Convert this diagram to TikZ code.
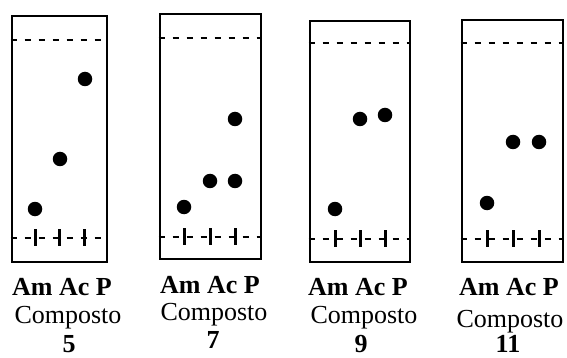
\documentclass[tikz,border=0pt]{standalone}
\usepackage{fontspec}
\setmainfont{Liberation Serif}
\begin{document}
\begin{tikzpicture}[x=1pt,y=-1pt,
  plate/.style={draw, line width=2.6pt, inner sep=0pt},
  front/.style={line width=2.4pt, dash pattern=on 6pt off 8pt},
  mark line/.style={line width=3pt},
  spot/.style={circle, fill, inner sep=0pt, minimum size=14.5pt},
  lab/.style={anchor=base, inner sep=0pt, font=\fontsize{26}{30}\selectfont},
  blab/.style={lab, font=\fontsize{26}{30}\selectfont\bfseries}]
\useasboundingbox (0,0) rectangle (567,358);

% ---- plate 1 (composto 5)
\node[plate, minimum width=95pt, minimum height=246pt] (p1) at (59.5,139) {};
\draw[front] (p1.west |- 0,40) -- (p1.east |- 0,40);
\draw[front] (p1.west |- 0,238) -- (p1.east |- 0,238);
\foreach \x in {35,59,84} \draw[mark line] (\x,229) -- (\x,246);
\node[spot] (s1a) at (85,79) {};
\node[spot] (s1b) at (60,159) {};
\node[spot] (s1c) at (35,209) {};
\node[blab] (t1) at (62,295) {Am Ac P};
\node[lab] (c1) at (68,323) {Composto};
\node[blab] (n1) at (69,352) {5};

% ---- plate 2 (composto 7)
\node[plate, minimum width=101pt, minimum height=245pt] (p2) at (210.5,136.5) {};
\draw[front] (p2.west |- 0,38) -- (p2.east |- 0,38);
\draw[front] (p2.west |- 0,237) -- (p2.east |- 0,237);
\foreach \x in {184,210,235} \draw[mark line] (\x,228) -- (\x,245);
\node[spot] (s2a) at (235,119) {};
\node[spot] (s2b) at (210,181) {};
\node[spot] (s2c) at (235,181) {};
\node[spot] (s2d) at (184,207) {};
\node[blab] (t2) at (210,293) {Am Ac P};
\node[lab] (c2) at (214,320) {Composto};
\node[blab] (n2) at (213,348) {7};

% ---- plate 3 (composto 9)
\node[plate, minimum width=100pt, minimum height=241pt] (p3) at (360,141.5) {};
\draw[front] (p3.west |- 0,43) -- (p3.east |- 0,43);
\draw[front] (p3.west |- 0,239) -- (p3.east |- 0,239);
\foreach \x in {335,360,385} \draw[mark line] (\x,230) -- (\x,247);
\node[spot] (s3a) at (385,115) {};
\node[spot] (s3b) at (360,119) {};
\node[spot] (s3c) at (335,209) {};
\node[blab] (t3) at (358,295) {Am Ac P};
\node[lab] (c3) at (364,323) {Composto};
\node[blab] (n3) at (361,352) {9};

% ---- plate 4 (composto 11)
\node[plate, minimum width=101pt, minimum height=242pt] (p4) at (512.5,141) {};
\draw[front] (p4.west |- 0,43) -- (p4.east |- 0,43);
\draw[front] (p4.west |- 0,239) -- (p4.east |- 0,239);
\foreach \x in {487,513,539} \draw[mark line] (\x,230) -- (\x,247);
\node[spot] (s4a) at (513,142) {};
\node[spot] (s4b) at (539,142) {};
\node[spot] (s4c) at (487,203) {};
\node[blab] (t4) at (509,295) {Am Ac P};
\node[lab] (c4) at (510,327) {Composto};
\node[blab] (n4) at (508,352) {11};
\end{tikzpicture}
\end{document}
